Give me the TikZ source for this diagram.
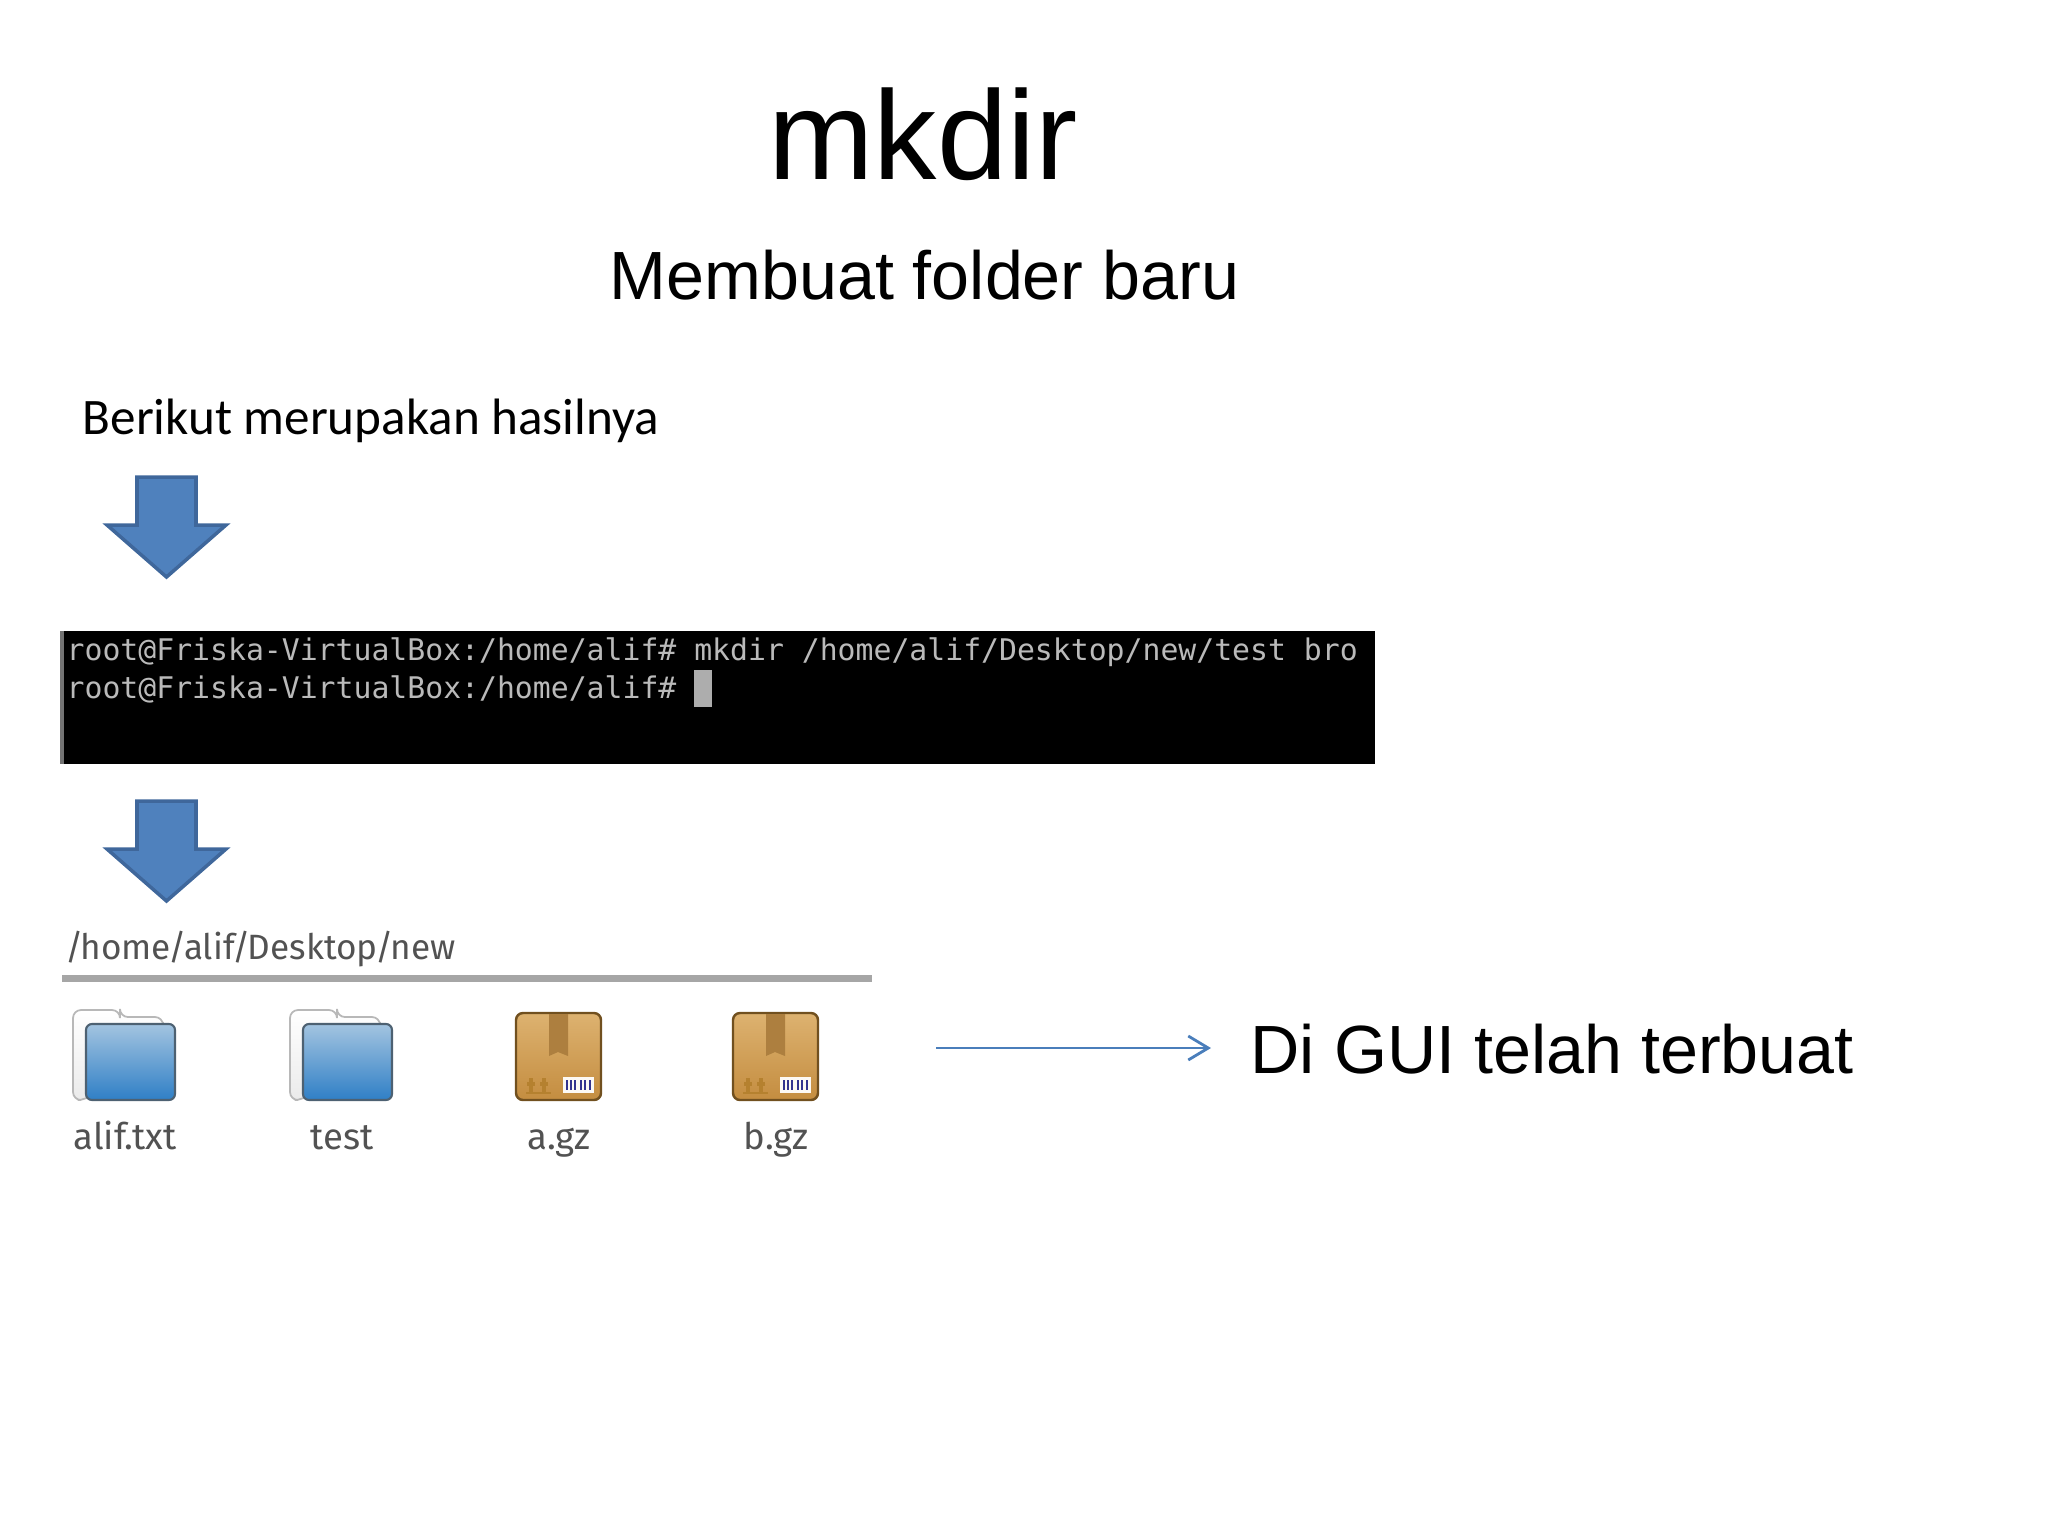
\documentclass[tikz,border=0pt]{standalone}
\usepackage{fontspec}
\setmainfont{Liberation Sans}
\newfontfamily\bodyfont{Carlito}
\newfontfamily\termfont{DejaVu Sans Mono}
\newfontfamily\filefont{Fira Sans}
\usetikzlibrary{arrows.meta,calc}
\definecolor{arrowfill}{HTML}{4F81BD}
\definecolor{arrowline}{HTML}{3F679B}
\definecolor{linkblue}{HTML}{4A7EBB}
\definecolor{foldertop}{HTML}{A3C4E0}
\definecolor{folderlow}{HTML}{2F7FC6}
\definecolor{folderedge}{HTML}{4D6172}
\definecolor{boxtop}{HTML}{DDB270}
\definecolor{boxlow}{HTML}{C48D40}
\definecolor{boxedge}{HTML}{71501F}
\definecolor{ribbon}{HTML}{AD7F3F}
\definecolor{boxmark}{HTML}{B5812F}
\newcommand{\pathsep}{\kern-0.75pt/\kern-0.75pt}
\tikzset{downarrow/.style={fill=arrowfill,draw=arrowline,line width=1pt,line join=miter}}
\tikzset{heading/.style={anchor=base,inner sep=0pt,font=\fontsize{36}{40}\selectfont}}
\tikzset{subheading/.style={anchor=base west,inner sep=0pt,font=\fontsize{19.4}{24}\selectfont}}
\tikzset{bodytext/.style={anchor=base west,inner sep=0pt,font=\bodyfont\fontsize{14.55}{18}\selectfont}}
\tikzset{termline/.style={anchor=base west,inner sep=0pt,text=black!27,font=\termfont\fontsize{8.47}{10}\selectfont}}
\tikzset{filename/.style={anchor=base,inner sep=0pt,text=black!68,font=\filefont\fontsize{10.4}{12}\selectfont}}
\tikzset{pathtext/.style={anchor=base west,inner sep=0pt,text=black!68,font=\filefont\fontsize{10}{12}\selectfont}}
\tikzset{link/.style={-{Straight Barb[length=0.2cm,width=0.24cm]},draw=linkblue,line width=0.8pt}}
\tikzset{
    downshape/.pic={
        \draw [downarrow] (137,2) -- (196,2) -- (196,50) -- (226,50) -- (166.5,102) -- (107,50) -- (137,50) -- cycle;
    },
    foldericon/.pic={
        \draw [top color=white,bottom color=black!8,draw=black!28,line width=0.5pt,rounded corners=0.8mm] (86,1100) -- (73,1100) -- (73,1010) -- (120,1010) -- (120,1017) -- (163,1017) -- (163,1030) -- cycle;
        \draw [top color=foldertop,bottom color=folderlow,draw=folderedge,line width=0.6pt,rounded corners=0.6mm] (86,1024) rectangle (175,1100);
    },
    packageicon/.pic={
        \draw [top color=boxtop,bottom color=boxlow,draw=boxedge,line width=0.7pt,rounded corners=0.7mm] (516,1013) rectangle (601,1100);
        \fill [ribbon] (549,1014) -- (568,1014) -- (568,1056) -- (558,1052) -- (549,1056) -- cycle;
        \fill [white!92!boxtop] (563,1077) rectangle (594,1093);
        \foreach \bx in {566,570,574,580,584,589} \fill [black!55!blue!80!white] (\bx,1080) rectangle ++(2,10);
        \foreach \ax in {531,544} \draw [boxmark,line width=0.9pt] (\ax,1078) -- ++(0,14) (\ax-4,1084) -- ++(8,0);
        \draw [boxmark,line width=0.6pt] (526,1093) -- (551,1093);
    }
}
\begin{document}
\begin{tikzpicture}[x=0.01cm,y=-0.01cm]
    \useasboundingbox (0,0) rectangle (2048,1536);
    \node [heading] (title) at (923,179) {mkdir};
    \node [subheading] (subtitle) at (609,299) {Membuat folder baru};
    \node [bodytext] (result) at (82,434) {Berikut merupakan hasilnya};
    \pic (first) at (0,475) {downshape};
    \pic (second) at (0,799) {downshape};

    \fill [black] (60,631) rectangle (1375,764);
    \fill [black!55] (60,631) rectangle (64,764);
    \node [termline] (cmdline) at (66,660) {root@Friska-VirtualBox:/home/alif\# mkdir /home/alif/Desktop/new/test bro};
    \node [termline] (promptline) at (66,698) {root@Friska-VirtualBox:/home/alif\#};
    \fill [black!32] (694,670) rectangle (712,707);

    \node [pathtext] (path) at (67,959) {\pathsep home\pathsep alif\pathsep Desktop\pathsep new};
    \fill [black!35] (62,975) rectangle (872,982);

    \pic at (0,0) {foldericon};
    \pic at (217,0) {foldericon};
    \pic at (0,0) {packageicon};
    \pic at (217,0) {packageicon};
    \foreach \fx/\fname/\ftext in {125/alif/alif.txt,342/test/test,559/agz/a.gz,776/bgz/b.gz}
        \node [filename] (\fname) at (\fx,1149) {\ftext};

    \coordinate (pointer) at (936,1048);
    \node [subheading] (guinote) at (1250,1073) {Di GUI telah terbuat};
    \draw [link] (pointer) -- ($(guinote.west |- pointer)+(-39,0)$);
\end{tikzpicture}
\end{document}
